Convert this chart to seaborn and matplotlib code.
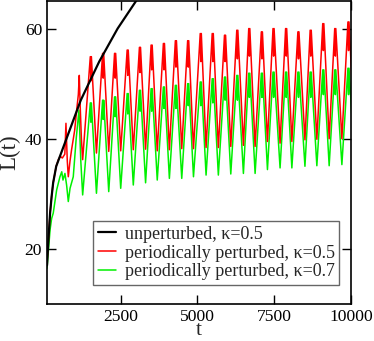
import numpy as np
import pandas as pd
import matplotlib
matplotlib.use("Agg")
import matplotlib.pyplot as plt
import seaborn as sns

# --- values ---
# unperturbed, kappa=0.5
BLACK_T = [100, 150, 200, 250, 300, 400, 500, 600, 800, 1000, 1200, 1500, 1800, 2100, 2400, 2700, 3000, 3200]
BLACK_L = [17.0, 22.0, 26.5, 29.5, 32.0, 35.0, 36.5, 38.0, 41.0, 44.0, 47.0, 50.5, 54.0, 57.0, 60.0, 62.5, 65.0, 66.5]

# transient part of the perturbed runs (up to the first regular trough)
RED_EARLY_T = [100, 150, 200, 250, 300, 400, 470, 530, 600, 680, 717, 760, 793, 850, 900, 1000, 1066, 1120, 1151, 1180, 1220, 1261]
RED_EARLY_L = [17.5, 22.0, 26.5, 29.5, 32.0, 35.0, 36.2, 36.8, 36.5, 37.2, 42.8, 36.0, 33.1, 36.0, 38.0, 41.5, 45.2, 48.0, 51.5, 46.0, 40.0, 36.2]
GREEN_EARLY_T = [100, 150, 200, 250, 303, 414, 521, 580, 620, 684, 740, 793, 850, 955, 1050, 1141, 1200, 1261]
GREEN_EARLY_L = [16.5, 20.0, 23.5, 25.5, 26.5, 30.7, 33.1, 34.0, 32.5, 33.7, 31.5, 28.6, 31.0, 33.1, 40.0, 45.2, 36.0, 29.8]

# regular oscillation: trough times, peak times
TROUGH_T = [1261, 1710, 2110, 2500, 2910, 3310, 3690, 4085, 4488, 4870, 5280, 5680,
            6085, 6496, 6877, 7279, 7690, 8074, 8500, 8888, 9289, 9703, 10120]
PEAK_T = [1530, 1930, 2320, 2730, 3130, 3510, 3910, 4300, 4700, 5110, 5500,
          5900, 6300, 6690, 7100, 7480, 7890, 8290, 8690, 9100, 9490, 9920]

RED_PEAK = [54.9, 55.5, 55.5, 56.1, 56.6, 57.0, 57.3, 57.8, 57.8, 59.1, 59.1,
            58.8, 59.7, 60.0, 59.4, 60.0, 60.0, 59.4, 59.7, 60.9, 60.0, 61.2]
RED_NOTCH = [50.5, 51.0, 51.0, 51.5, 52.0, 52.5, 52.5, 53.0, 53.0, 54.0, 54.0,
             54.0, 54.5, 55.0, 54.5, 55.0, 55.0, 54.5, 55.0, 56.0, 55.0, 56.0]
RED_TROUGH = [36.2, 37.4, 37.7, 37.8, 38.0, 38.1, 37.8, 38.0, 38.2, 38.2, 38.4, 38.4,
              38.6, 38.8, 38.6, 39.5, 39.2, 39.5, 39.8, 39.9, 40.0, 40.0, 40.2]

GREEN_PEAK = [46.5, 47.0, 47.6, 48.2, 48.8, 49.1, 49.4, 49.7, 50.0, 50.3, 50.9,
              51.2, 51.5, 51.9, 51.9, 52.1, 52.1, 52.1, 52.1, 52.5, 52.5, 52.8]
GREEN_NOTCH = [43.0, 43.5, 44.0, 44.5, 45.0, 45.0, 45.5, 45.5, 46.0, 46.0, 46.5,
               47.0, 47.0, 47.5, 47.5, 47.5, 47.5, 47.5, 47.5, 48.0, 48.0, 48.0]
GREEN_TROUGH = [29.8, 30.1, 30.4, 31.0, 31.6, 32.0, 32.5, 32.8, 32.8, 33.1, 33.4, 33.4,
                33.6, 33.7, 33.7, 34.4, 34.7, 34.7, 35.0, 35.1, 35.1, 35.3, 35.4]

LABELS = ["unperturbed, κ=0.5", "periodically perturbed, κ=0.5", "periodically perturbed, κ=0.7"]
X_TICKS = [2500, 5000, 7500, 10000]
Y_TICKS = [20, 40, 60]


def build_series(early_t, early_l, peaks, notches, troughs):
    """Transient part followed by trough -> twin spike -> trough cycles."""
    t, l = list(early_t), list(early_l)
    for k, tp in enumerate(PEAK_T):
        t += [tp - 20, tp, tp + 15, TROUGH_T[k + 1]]
        l += [peaks[k], notches[k], peaks[k], troughs[k + 1]]
    return pd.DataFrame({"t": t, "L": l})


black_df = pd.DataFrame({"t": BLACK_T, "L": BLACK_L})
red_df = build_series(RED_EARLY_T, RED_EARLY_L, RED_PEAK, RED_NOTCH, RED_TROUGH)
green_df = build_series(GREEN_EARLY_T, GREEN_EARLY_L, GREEN_PEAK, GREEN_NOTCH, GREEN_TROUGH)

sns.set_style("ticks")
plt.rcParams["font.family"] = ["Liberation Serif", "DejaVu Serif"]

fig = plt.figure(figsize=(3.74, 3.41), dpi=100)
ax = fig.add_axes([0.1257, 0.1085, 0.8128, 0.8886])

sns.lineplot(data=black_df, x="t", y="L", sort=False, estimator=None, color="black",
             lw=1.6, zorder=3, label=LABELS[0], ax=ax)
sns.lineplot(data=red_df, x="t", y="L", sort=False, estimator=None, color="#ff0000",
             lw=1.1, zorder=2, label=LABELS[1], ax=ax)
sns.lineplot(data=green_df, x="t", y="L", sort=False, estimator=None, color="#00f000",
             lw=1.1, zorder=1, label=LABELS[2], ax=ax)

ax.set_xlim(100, 10000)
ax.set_ylim(10, 65)
ax.set_xticks(X_TICKS)
ax.set_yticks(Y_TICKS)
ax.set_xlabel("t", fontsize=15.5, va="center")
ax.xaxis.set_label_coords(0.5, -0.087)
ax.set_ylabel("L(t)", fontsize=16.5, labelpad=3)
ax.tick_params(direction="in", top=True, right=True, length=6.5, width=1.0,
               labelsize=12.6, colors="black")
for s in ax.spines.values():
    s.set_linewidth(1.2)
    s.set_color("black")

leg = ax.legend(loc="lower right", bbox_to_anchor=(0.961, 0.063), fontsize=13,
                frameon=True, fancybox=False, framealpha=1, edgecolor="0.4",
                handlelength=1.0, handletextpad=0.5, labelspacing=0.1,
                borderpad=0.25, borderaxespad=0)
leg.get_frame().set_linewidth(1.0)

fig.savefig("out.png", dpi=100)
